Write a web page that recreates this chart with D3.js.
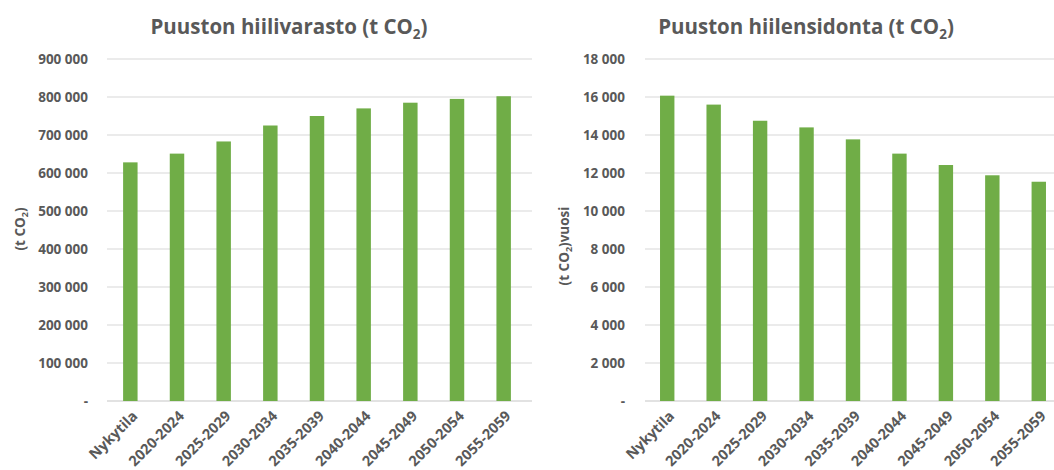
<!DOCTYPE html>
<html><head><meta charset="utf-8">
<script src="https://cdn.jsdelivr.net/npm/d3@7"></script>
<style>
html,body{margin:0;padding:0;background:#fff;}
svg{display:block;}
text{font-family:"Open Sans",sans-serif;font-weight:bold;fill:#595959;}
</style></head>
<body>
<svg id="chart" width="1054" height="470"></svg>
<script>
const categories = ["Nykytila","2020-2024","2025-2029","2030-2034","2035-2039","2040-2044","2045-2049","2050-2054","2055-2059"];
const storageValues = [628000, 651000, 683000, 725000, 750000, 770000, 785000, 795000, 802000];
const sinkValues = [16070, 15600, 14750, 14400, 13770, 13020, 12420, 11880, 11540];
const storageTicks = [0,100000,200000,300000,400000,500000,600000,700000,800000,900000];
const sinkTicks = [0,2000,4000,6000,8000,10000,12000,14000,16000,18000];

const svg = d3.select("#chart");
const fmt = v => v === 0 ? "-" : d3.format(",")(v).replace(/,/g, "\u00a0");
const FONT = "'Open Sans',sans-serif";

function drawChart(cfg){
  const g = svg.append("g");
  const y = d3.scaleLinear().domain([cfg.ticks[0], cfg.ticks[cfg.ticks.length-1]]).range([401, 59]);
  const x = d3.scaleBand().domain(categories).range(cfg.xRange).paddingInner(0.69).paddingOuter(0.345);

  g.append("g").selectAll("line").data(cfg.ticks).join("line")
    .attr("x1", cfg.gridX[0]).attr("x2", cfg.gridX[1])
    .attr("y1", d => y(d)).attr("y2", d => y(d))
    .attr("stroke", d => d === 0 ? "#D9D9D9" : "#E4E4E4").attr("stroke-width", 1.3);

  const ya = d3.axisLeft(y).tickValues(cfg.ticks).tickFormat(fmt).tickSize(0).tickPadding(0);
  const yg = g.append("g").attr("transform", `translate(${cfg.yLabelX},0)`).call(ya);
  yg.select(".domain").remove();
  yg.selectAll("text").attr("font-size", 13.5).attr("fill", "#595959")
    .style("font-family", FONT).style("font-weight", "bold")
    .attr("dy", "0.35em");

  g.append("g").selectAll("rect").data(cfg.values).join("rect")
    .attr("x", (d,i) => x(categories[i])).attr("width", x.bandwidth())
    .attr("y", d => y(d)).attr("height", d => y(0) - y(d))
    .attr("fill", "#70AD47");

  const xa = d3.axisBottom(x).tickSize(0).tickPadding(0);
  const xg = g.append("g").attr("transform", "translate(0,401)").call(xa);
  xg.select(".domain").remove();
  xg.selectAll("text").attr("font-size", 14.5).attr("fill", "#595959")
    .style("font-family", FONT).style("font-weight", "bold")
    .attr("text-anchor", "end").attr("dy", null).attr("y", 0)
    .attr("transform", "translate(8,16) rotate(-45)");

  const t = g.append("text").attr("x", cfg.titleX).attr("y", 34).attr("text-anchor", "middle")
    .attr("font-size", 20.5);
  t.append("tspan").text(cfg.title + " (t CO");
  t.append("tspan").text("2").attr("font-size", 13.5).attr("dy", 5);
  t.append("tspan").text(")").attr("dy", -5);

  const yt = g.append("text").attr("transform", `translate(${cfg.yTitleX},${cfg.yTitleY}) rotate(-90)`)
    .attr("text-anchor", "middle").attr("font-size", 13.5);
  yt.append("tspan").text("(t CO");
  yt.append("tspan").text("2").attr("font-size", 9).attr("dy", 3);
  yt.append("tspan").text(")" + cfg.yUnitSuffix).attr("dy", -3);
}

drawChart({values: storageValues, ticks: storageTicks, xRange: [107, 527], gridX: [107, 532],
  yLabelX: 88, title: "Puuston hiilivarasto", titleX: 289, yTitleX: 25, yTitleY: 229, yUnitSuffix: ""});
drawChart({values: sinkValues, ticks: sinkTicks, xRange: [644, 1062], gridX: [645, 1060],
  yLabelX: 625, title: "Puuston hiilensidonta", titleX: 806, yTitleX: 569, yTitleY: 246, yUnitSuffix: "vuosi"});
</script>
</body></html>
